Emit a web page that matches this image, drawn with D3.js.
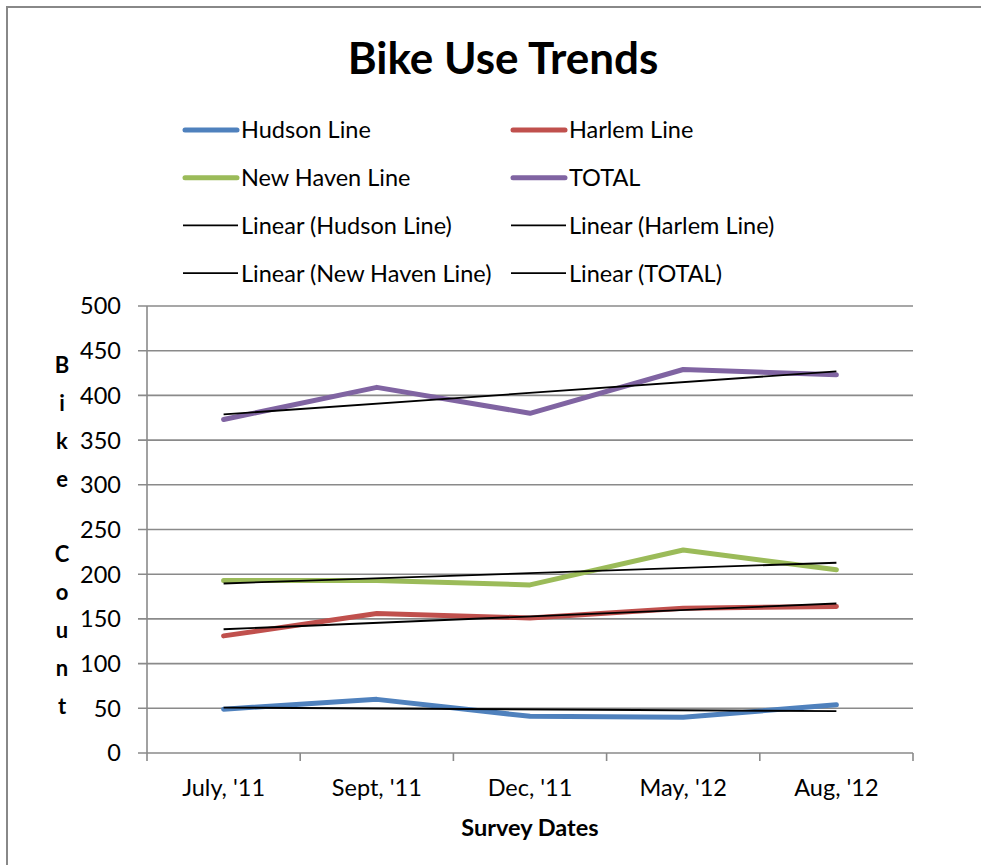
<!DOCTYPE html>
<html>
<head>
<meta charset="utf-8">
<script src="https://cdn.jsdelivr.net/npm/d3@7"></script>
<style>
	body { margin: 0; background: #fff; }
	text { font-family: Lato, "Open Sans", sans-serif; fill: #000; }
</style>
</head>
<body>
<div id="chart"></div>
<script>
var dates = ["July, '11", "Sept, '11", "Dec, '11", "May, '12", "Aug, '12"];
var hudson = [49, 60, 41, 40, 54];
var harlem = [131, 156, 151, 162, 164];
var newHaven = [193, 193, 188, 227, 205];
var total = [373, 409, 380, 429, 423];
var yTicks = [0, 50, 100, 150, 200, 250, 300, 350, 400, 450, 500];

var seriesList = [
	{ name: "Hudson Line", values: hudson, color: "#4F81BD" },
	{ name: "Harlem Line", values: harlem, color: "#C0504D" },
	{ name: "New Haven Line", values: newHaven, color: "#9BBB59" },
	{ name: "TOTAL", values: total, color: "#8064A2" }
];

var layout = { w: 981, h: 865, left: 147, right: 913, top: 306, bottom: 753 };
var fs = "23.5px";

var svg = d3.select("#chart").append("svg")
	.attr("width", layout.w)
	.attr("height", layout.h);

// chart frame
svg.append("rect")
	.attr("x", 7).attr("y", 7)
	.attr("width", 990).attr("height", 900)
	.style("fill", "none").style("stroke", "#888").style("stroke-width", 2);

var xScale = d3.scalePoint().domain(dates).range([layout.left, layout.right]).padding(0.5);
var yScale = d3.scaleLinear().domain([0, 500]).range([layout.bottom, layout.top]);

// gridlines
svg.append("g").selectAll("line")
	.data(yTicks)
	.enter().append("line")
	.attr("x1", layout.left - 9).attr("x2", layout.right)
	.attr("y1", function(d){ return yScale(d); })
	.attr("y2", function(d){ return yScale(d); })
	.style("stroke", "#8a8a8a").style("stroke-width", 1.6);

// y axis line
svg.append("line")
	.attr("x1", layout.left).attr("x2", layout.left)
	.attr("y1", layout.top).attr("y2", layout.bottom)
	.style("stroke", "#8a8a8a").style("stroke-width", 1.6);

// x axis ticks between categories
var step = xScale.step();
var xTickPos = d3.range(dates.length + 1).map(function(i){ return layout.left + i * step; });
svg.append("g").selectAll("line")
	.data(xTickPos)
	.enter().append("line")
	.attr("x1", function(d){ return d; }).attr("x2", function(d){ return d; })
	.attr("y1", layout.bottom).attr("y2", layout.bottom + 8)
	.style("stroke", "#8a8a8a").style("stroke-width", 1.6);

// y tick labels
svg.append("g").selectAll("text")
	.data(yTicks)
	.enter().append("text")
	.attr("x", 121)
	.attr("y", function(d){ return yScale(d); })
	.attr("dy", "0.36em")
	.attr("text-anchor", "end")
	.style("font-size", fs)
	.text(function(d){ return d; });

// x tick labels
svg.append("g").selectAll("text")
	.data(dates)
	.enter().append("text")
	.attr("x", function(d){ return xScale(d); })
	.attr("y", 796)
	.attr("text-anchor", "middle")
	.style("font-size", fs)
	.text(function(d){ return d; });

// axis titles
svg.append("text")
	.attr("x", 530).attr("y", 836)
	.attr("text-anchor", "middle")
	.style("font-size", fs).style("font-weight", "bold")
	.text("Survey Dates");

var yTitle = "Bike Count".split("");
svg.append("g").selectAll("text")
	.data(yTitle)
	.enter().append("text")
	.attr("x", 62)
	.attr("y", function(d, i){ return 365 + i * 37.9; })
	.attr("dy", "0.36em")
	.attr("text-anchor", "middle")
	.style("font-size", "22px").style("font-weight", "bold")
	.text(function(d){ return d; });

svg.append("text")
	.attr("x", 503).attr("y", 74)
	.attr("text-anchor", "middle")
	.style("font-size", "44px").style("font-weight", "bold")
	.text("Bike Use Trends");

// series lines
var line = d3.line()
	.x(function(d, i){ return xScale(dates[i]); })
	.y(function(d){ return yScale(d); });

svg.append("g").selectAll("path")
	.data(seriesList)
	.enter().append("path")
	.attr("d", function(d){ return line(d.values); })
	.style("fill", "none")
	.style("stroke", function(d){ return d.color; })
	.style("stroke-width", 5)
	.style("stroke-linecap", "round")
	.style("stroke-linejoin", "round");

// linear trendlines (least squares, as Excel does)
function trend(values){
	var n = values.length,
		xm = (n - 1) / 2,
		ym = d3.mean(values),
		num = 0, den = 0;
	values.forEach(function(v, i){ num += (i - xm) * (v - ym); den += (i - xm) * (i - xm); });
	var slope = num / den;
	return [ym - slope * xm, ym + slope * xm];
}

svg.append("g").selectAll("line")
	.data(seriesList)
	.enter().append("line")
	.attr("x1", xScale(dates[0]))
	.attr("x2", xScale(dates[dates.length - 1]))
	.attr("y1", function(d){ return yScale(trend(d.values)[0]); })
	.attr("y2", function(d){ return yScale(trend(d.values)[1]); })
	.style("stroke", "#000").style("stroke-width", 1.8);

// legend
var legendItems = [];
seriesList.forEach(function(s){ legendItems.push({ label: s.name, color: s.color, width: 5 }); });
seriesList.forEach(function(s){ legendItems.push({ label: "Linear (" + s.name + ")", color: "#000", width: 1.8 }); });

var legend = svg.append("g").selectAll("g")
	.data(legendItems)
	.enter().append("g")
	.attr("transform", function(d, i){
		return "translate(" + (i % 2 == 0 ? 183 : 511) + "," + (130 + Math.floor(i / 2) * 47.7) + ")";
	});

legend.append("line")
	.attr("x1", function(d){ return d.width > 2 ? 2 : 0; })
	.attr("x2", function(d){ return d.width > 2 ? 54 : 55; })
	.attr("y1", 0).attr("y2", 0)
	.style("stroke", function(d){ return d.color; })
	.style("stroke-width", function(d){ return d.width; })
	.style("stroke-linecap", function(d){ return d.width > 2 ? "round" : "butt"; });

legend.append("text")
	.attr("x", 58).attr("y", 0)
	.attr("dy", "0.36em")
	.style("font-size", fs)
	.text(function(d){ return d.label; });
</script>
</body>
</html>
